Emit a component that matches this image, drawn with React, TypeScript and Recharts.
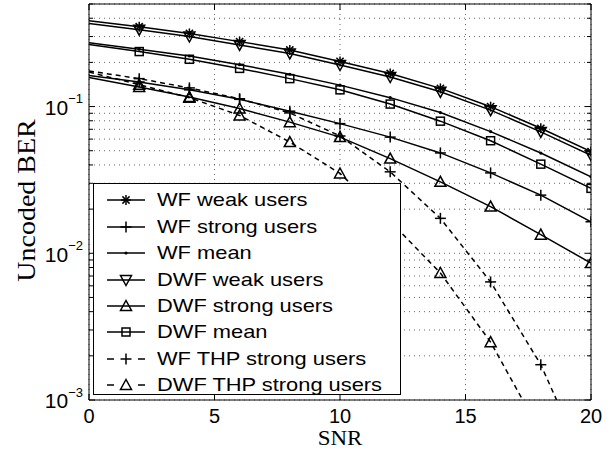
import React from "react";
import { LineChart, Line, XAxis, YAxis, CartesianGrid, Legend, ReferenceLine } from "recharts";

// SNR points and BER values
const snr = [0, 2, 4, 6, 8, 10, 12, 14, 16, 18, 20];
const wfWeak = [0.385, 0.35, 0.315, 0.277, 0.243, 0.203, 0.168, 0.133, 0.0998, 0.0711, 0.0493];
const wfStrong = [0.163, 0.147, 0.13, 0.112, 0.093, 0.0765, 0.0619, 0.0483, 0.0353, 0.0249, 0.0164];
const wfMean = [0.272, 0.246, 0.221, 0.193, 0.166, 0.14, 0.115, 0.091, 0.0675, 0.0482, 0.0332];
const dwfWeak = [0.368, 0.334, 0.3, 0.263, 0.23, 0.192, 0.159, 0.126, 0.0945, 0.0672, 0.0466];
const dwfStrong = [0.158, 0.136, 0.116, 0.097, 0.0783, 0.0619, 0.0442, 0.0307, 0.0208, 0.0134, 0.00857];
const dwfMean = [0.265, 0.237, 0.21, 0.182, 0.155, 0.13, 0.104, 0.0795, 0.0585, 0.0405, 0.0277];
const wfThp = [0.175, 0.155, 0.134, 0.113, 0.0905, 0.063, 0.0359, 0.0173, 0.00638, 0.00174, 0.0003];
const dwfThp = [0.172, 0.141, 0.115, 0.087, 0.0573, 0.035, 0.0165, 0.00734, 0.00248, 0.0006, 0.0001];

const seriesNames = [
  "WF weak users",
  "WF strong users",
  "WF mean",
  "DWF weak users",
  "DWF strong users",
  "DWF mean",
  "WF THP strong users",
  "DWF THP strong users",
];

const xTicks = [0, 5, 10, 15, 20];
const yTicks = [
  0.001, 0.002, 0.003, 0.004, 0.005, 0.006, 0.007, 0.008, 0.009,
  0.01, 0.02, 0.03, 0.04, 0.05, 0.06, 0.07, 0.08, 0.09,
  0.1, 0.2, 0.3, 0.4, 0.5,
];

type Shape = "star" | "plus" | "dot" | "tridown" | "triup" | "square";

const SERIES: { key: string; name: string; values: number[]; shape: Shape; dashed: boolean }[] = [
  { key: "wfWeak", name: seriesNames[0], values: wfWeak, shape: "star", dashed: false },
  { key: "wfStrong", name: seriesNames[1], values: wfStrong, shape: "plus", dashed: false },
  { key: "wfMean", name: seriesNames[2], values: wfMean, shape: "dot", dashed: false },
  { key: "dwfWeak", name: seriesNames[3], values: dwfWeak, shape: "tridown", dashed: false },
  { key: "dwfStrong", name: seriesNames[4], values: dwfStrong, shape: "triup", dashed: false },
  { key: "dwfMean", name: seriesNames[5], values: dwfMean, shape: "square", dashed: false },
  { key: "wfThp", name: seriesNames[6], values: wfThp, shape: "plus", dashed: true },
  { key: "dwfThp", name: seriesNames[7], values: dwfThp, shape: "triup", dashed: true },
];

const data = snr.map((s, i) => {
  const row: Record<string, number> = { snr: s };
  SERIES.forEach((se) => (row[se.key] = se.values[i]));
  return row;
});

const PLOT_L = 89;
const PLOT_R = 591;
const PLOT_T = 4;
const PLOT_B = 400;
const SANS = "'Liberation Sans', Arial, Helvetica, sans-serif";
const SERIF = "'Liberation Serif', 'Times New Roman', serif";

function Marker({ shape, cx, cy }: { shape: Shape; cx: number; cy: number }) {
  const sw = 1.5;
  if (shape === "star") {
    const r = 5, d = 3.6;
    return (
      <g stroke="#000" strokeWidth={sw}>
        <line x1={cx - r} y1={cy} x2={cx + r} y2={cy} />
        <line x1={cx} y1={cy - r} x2={cx} y2={cy + r} />
        <line x1={cx - d} y1={cy - d} x2={cx + d} y2={cy + d} />
        <line x1={cx - d} y1={cy + d} x2={cx + d} y2={cy - d} />
      </g>
    );
  }
  if (shape === "plus") {
    const r = 5.5;
    return (
      <g stroke="#000" strokeWidth={sw}>
        <line x1={cx - r} y1={cy} x2={cx + r} y2={cy} />
        <line x1={cx} y1={cy - r} x2={cx} y2={cy + r} />
      </g>
    );
  }
  if (shape === "dot") return <circle cx={cx} cy={cy} r={1.6} fill="#000" />;
  if (shape === "tridown")
    return (
      <polygon
        points={`${cx - 5.5},${cy - 4.5} ${cx + 5.5},${cy - 4.5} ${cx},${cy + 5.5}`}
        fill="none" stroke="#000" strokeWidth={sw}
      />
    );
  if (shape === "triup")
    return (
      <polygon
        points={`${cx - 5.5},${cy + 4.5} ${cx + 5.5},${cy + 4.5} ${cx},${cy - 5.5}`}
        fill="none" stroke="#000" strokeWidth={sw}
      />
    );
  return <rect x={cx - 4} y={cy - 4} width={8} height={8} fill="none" stroke="#000" strokeWidth={sw} />;
}

function YTick(props: any) {
  const { y, payload } = props;
  const e = Math.log10(payload.value);
  const major = Math.abs(e - Math.round(e)) < 1e-6;
  const len = major ? 6 : 4;
  return (
    <g>
      <line x1={PLOT_L} x2={PLOT_L + len} y1={y} y2={y} stroke="#000" />
      <line x1={PLOT_R} x2={PLOT_R - len} y1={y} y2={y} stroke="#000" />
      {major && (
        <text x={PLOT_L - 6} y={y + 8.4} textAnchor="end" fontFamily={SANS} fontSize={21} fill="#000">
          <tspan>10</tspan>
          <tspan dy={-11.7} fontSize={13}>{"\u2212" + Math.round(-e)}</tspan>
        </text>
      )}
    </g>
  );
}

function XTick(props: any) {
  const { x, payload } = props;
  return (
    <g>
      <line x1={x} x2={x} y1={PLOT_B} y2={PLOT_B - 6} stroke="#000" />
      <line x1={x} x2={x} y1={PLOT_T} y2={PLOT_T + 6} stroke="#000" />
      <text x={x} y={PLOT_B + 22.5} textAnchor="middle" fontFamily={SANS} fontSize={20} fill="#000">
        {payload.value}
      </text>
    </g>
  );
}

function LegendBox() {
  return (
    <div
      style={{
        width: 308,
        height: 212,
        boxSizing: "border-box",
        border: "1px solid #000",
        background: "#fff",
        paddingTop: 3.3,
      }}
    >
      {SERIES.map((s) => (
        <div key={s.key} style={{ display: "flex", alignItems: "center", height: 26.4 }}>
          <svg width={38} height={20} style={{ marginLeft: 12.7, flex: "none", display: "block" }}>
            {s.dashed ? (
              <g stroke="#000" strokeWidth={1.5}>
                <line x1={0} x2={7} y1={10} y2={10} />
                <line x1={31} x2={38} y1={10} y2={10} />
              </g>
            ) : (
              <line x1={0} x2={38} y1={10} y2={10} stroke="#000" strokeWidth={1.5} />
            )}
            <Marker shape={s.shape} cx={19} cy={10} />
          </svg>
          <span
            style={{
              marginLeft: 12.4,
              fontFamily: SANS,
              fontSize: 19,
              display: "inline-block",
              transform: "scaleX(1.15)",
              transformOrigin: "left center",
              whiteSpace: "nowrap",
              color: "#000",
            }}
          >
            {s.name}
          </span>
        </div>
      ))}
    </div>
  );
}

export default function App() {
  return (
    <div style={{ position: "absolute", left: 0, top: 0, background: "#fff" }}>
      <LineChart width={612} height={450} data={data} margin={{ top: PLOT_T, right: 612 - PLOT_R, bottom: 0, left: 0 }}>
        <CartesianGrid stroke="#666" strokeDasharray="1 4" />
        <XAxis
          type="number"
          dataKey="snr"
          domain={[0, 20]}
          ticks={xTicks}
          interval={0}
          allowDataOverflow
          tick={<XTick />}
          tickLine={false}
          tickSize={0}
          tickMargin={0}
          height={50}
          axisLine={{ stroke: "#000" }}
          label={{
            content: () => (
              <text
                transform={`translate(${(PLOT_L + PLOT_R) / 2},445.3) scale(1.12,1)`}
                textAnchor="middle"
                fontFamily={SERIF}
                fontSize={20.5}
                fill="#000"
              >
                SNR
              </text>
            ),
          }}
        />
        <YAxis
          type="number"
          scale="log"
          domain={[0.001, 0.5]}
          ticks={yTicks}
          interval={0}
          allowDataOverflow
          tick={<YTick />}
          tickLine={false}
          tickSize={0}
          tickMargin={0}
          width={PLOT_L}
          axisLine={{ stroke: "#000" }}
          label={{
            content: () => (
              <text
                transform="translate(35,200.5) rotate(-90) scale(1.12,1)"
                textAnchor="middle"
                fontFamily={SERIF}
                fontSize={25}
                fill="#000"
              >
                Uncoded BER
              </text>
            ),
          }}
        />
        <ReferenceLine y={0.5} stroke="#000" />
        <ReferenceLine x={20} stroke="#000" />
        {SERIES.map((s) => (
          <Line
            key={s.key}
            type="linear"
            dataKey={s.key}
            name={s.name}
            stroke="#000"
            strokeWidth={1.5}
            strokeDasharray={s.dashed ? "5 4" : undefined}
            activeDot={false}
            isAnimationActive={false}
            dot={(p: any) =>
              p.index === 0 || p.cy == null ? (
                <g key={`${s.key}-${p.index}`} />
              ) : (
                <g key={`${s.key}-${p.index}`}>
                  <Marker shape={s.shape} cx={p.cx} cy={p.cy} />
                </g>
              )
            }
          />
        ))}
        <Legend
          layout="vertical"
          align="center"
          verticalAlign="middle"
          content={<LegendBox />}
          wrapperStyle={{ left: 93, top: 183, width: 308, height: 212 }}
        />
      </LineChart>
    </div>
  );
}
